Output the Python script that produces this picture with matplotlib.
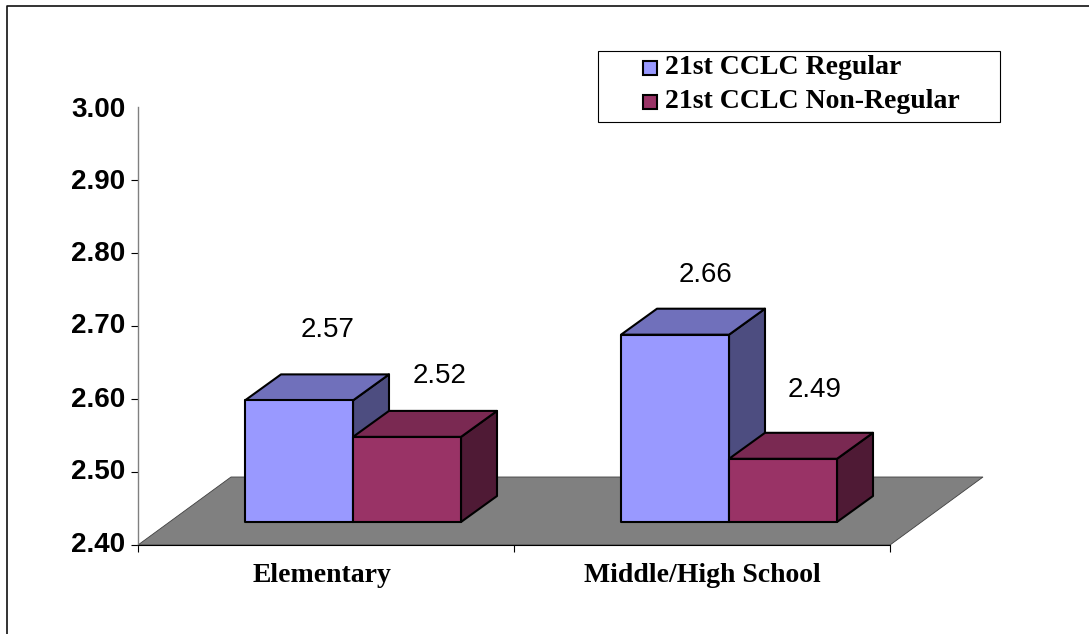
import matplotlib
matplotlib.use("Agg")
import matplotlib.pyplot as plt
from matplotlib.lines import Line2D
from matplotlib.patches import Polygon, Rectangle
from matplotlib.transforms import ScaledTranslation

categories = ["Elementary", "Middle/High School"]
series_names = ["21st CCLC Regular", "21st CCLC Non-Regular"]
regular = [2.57, 2.66]
non_regular = [2.52, 2.49]
y_ticks = [2.40, 2.50, 2.60, 2.70, 2.80, 2.90, 3.00]

# label placement above each bar's front-top edge, pixels (regular, non-regular) per category
label_offsets = [[(83, 70.5), (87, 61)], [(84, 60), (86, 68.5)]]
category_shift = [-4, 0]
tick_label_lift = [3, 3, 2, 3, 2, 1.5, 0]

W, H = 1089, 634
fig = plt.figure(figsize=(W / 100, H / 100), dpi=100, facecolor="white")
ax = fig.add_axes([138 / W, 1 - 545 / H, 752 / W, 438 / H])
ax.set_xlim(0, 2)
ax.set_ylim(2.40, 3.00)
ax.patch.set_visible(False)
for s in ("top", "right"):
    ax.spines[s].set_visible(False)
ax.spines["left"].set_color("#808080")
ax.spines["left"].set_linewidth(1.0)
ax.spines["bottom"].set_color("black")
ax.spines["bottom"].set_linewidth(0.8)

# pixel sizes in data units
px = 2 / 752
py = 0.6 / 438

# floor
floor_dx, floor_dy = 93 * px, 68 * py
ax.add_patch(Polygon([(0, 2.40), (floor_dx, 2.40 + floor_dy), (2 + floor_dx, 2.40 + floor_dy), (2, 2.40)],
                     closed=True, fc="#808080", ec="#404040", lw=0.6, clip_on=False, zorder=1))

# 3D bars
front_dy = 23 * py
top_shift = -2.5 * py
deep_dx, deep_dy = 36 * px, 26 * py
bar_w = 108 * px
centers = [0.5, 1.5]
colors = [("#9999FF", "#7070BB", "#4D4D80"), ("#993366", "#7A2952", "#4F1A35")]


def bar(x0, v, cols, z):
    x1 = x0 + bar_w
    b = 2.40 + front_dy
    t = v + front_dy + top_shift
    kw = dict(closed=True, ec="black", lw=1.5, joinstyle="round", zorder=z)
    ax.add_patch(Polygon([(x1, b), (x1 + deep_dx, b + deep_dy), (x1 + deep_dx, t + deep_dy), (x1, t)], fc=cols[2], **kw))
    ax.add_patch(Polygon([(x0, t), (x0 + deep_dx, t + deep_dy), (x1 + deep_dx, t + deep_dy), (x1, t)], fc=cols[1], **kw))
    ax.add_patch(Polygon([(x0, b), (x0, t), (x1, t), (x1, b)], fc=cols[0], **kw))


def lab(x0, v, off):
    t = v + front_dy + top_shift
    ax.text(x0 + off[0] * px, t + off[1] * py, f"{v:.2f}", ha="center", va="center", fontsize=20,
            family="Liberation Sans", color="black", zorder=10)


for i, c in enumerate(centers):
    x_r = c - bar_w + 27 * px
    x_n = x_r + bar_w
    z = 3 + i * 2
    bar(x_r, regular[i], colors[0], z)
    bar(x_n, non_regular[i], colors[1], z + 1)
    lab(x_r, regular[i], label_offsets[i][0])
    lab(x_n, non_regular[i], label_offsets[i][1])

ax.set_yticks(y_ticks)
ax.set_yticklabels([f"{v:.2f}" for v in y_ticks], fontsize=20, fontweight="bold", family="Liberation Sans")
ax.set_xticks([0, 1, 2])
ax.set_xticklabels([])
ax.tick_params(axis="both", length=5, width=0.8, color="black", direction="out")
ax.tick_params(axis="y", pad=4)
ax.yaxis.get_major_ticks()[-1].tick1line.set_visible(False)
for label, lift in zip(ax.get_yticklabels(), tick_label_lift):
    label.set_transform(label.get_transform() + ScaledTranslation(0, lift / 100, fig.dpi_scale_trans))
for c, name, sh in zip(centers, categories, category_shift):
    ax.text(c + sh * px, 2.40 - 30 * py, name, ha="center", va="center", fontsize=20, fontweight="bold",
            family="Liberation Serif", clip_on=False)

# outer frame: top and left edges only
fig.add_artist(Line2D([7 / W, 7 / W, 1], [0, 1 - 5.5 / H, 1 - 5.5 / H], transform=fig.transFigure,
                      color="#111111", lw=1.2))

# legend box
fig.add_artist(Rectangle((598 / W, 1 - 121.5 / H), 402 / W, 71 / H, transform=fig.transFigure,
                         fc="white", ec="black", lw=0.8, zorder=20))
for name, col, yy in zip(series_names, colors, (67.5, 101.5)):
    fig.add_artist(Rectangle((642.5 / W, 1 - (yy + 7) / H), 14 / W, 14 / H, transform=fig.transFigure,
                             fc=col[0], ec="black", lw=1.5, zorder=21))
    fig.text(665 / W, 1 - yy / H, name, ha="left", va="center", fontsize=20, fontweight="bold",
             family="Liberation Serif", zorder=22)

fig.savefig("out.png", dpi=100)
